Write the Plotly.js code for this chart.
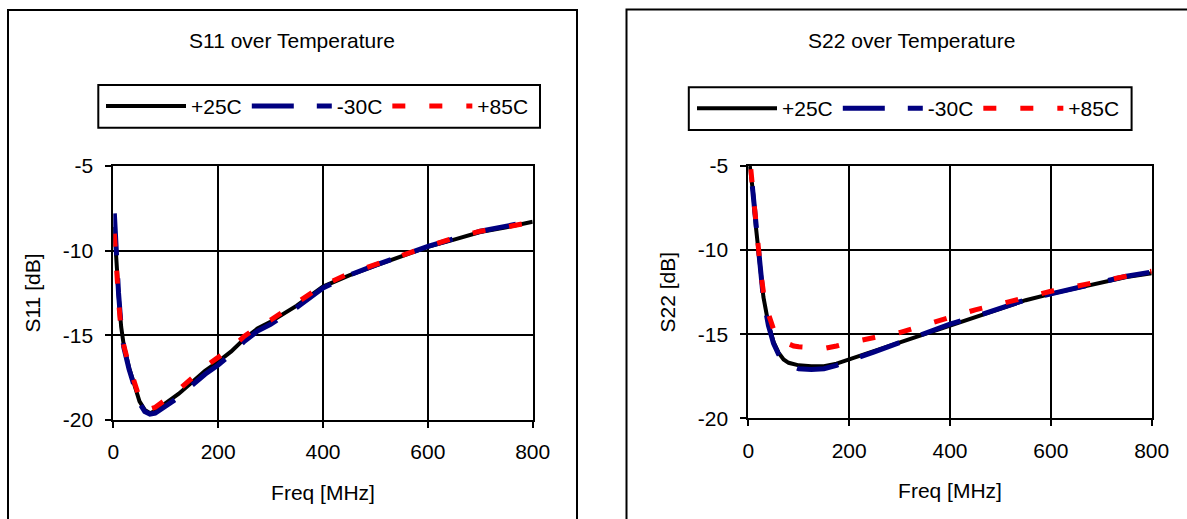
<!DOCTYPE html>
<html>
<head>
<meta charset="utf-8">
<script src="https://cdn.plot.ly/plotly-3.0.1.min.js"></script>
<style>
  html, body { margin: 0; padding: 0; background: #fff; }
  #chart { width: 1187px; height: 519px; }
</style>
</head>
<body>
<div id="chart"></div>
<script>
// ---------------- DATA ----------------
const seriesNames = ['+25C', '-30C', '+85C'];

// S11 over Temperature
const s11Freq = [2, 5, 10, 15, 20, 30, 40, 50, 60, 70, 80, 90, 100, 125, 150, 175, 200, 225, 250, 275, 300, 350, 400, 450, 500, 550, 600, 650, 700, 750, 800];
const s11_25C = [-8.6, -10.4, -12.6, -14.5, -15.6, -16.9, -18.0, -18.9, -19.4, -19.6, -19.45, -19.2, -19.0, -18.45, -17.75, -17.1, -16.55, -15.95, -15.2, -14.6, -14.2, -13.25, -12.12, -11.46, -10.88, -10.33, -9.78, -9.35, -8.9, -8.62, -8.29];
const s11_m30C = [-7.8, -10.0, -12.5, -14.5, -15.7, -17.0, -18.1, -19.0, -19.5, -19.65, -19.6, -19.4, -19.2, -18.65, -17.95, -17.3, -16.75, -16.1, -15.35, -14.75, -14.35, -13.35, -12.2, -11.45, -10.85, -10.3, -9.75, -9.3, -8.85, -8.55, -8.25];
const s11_85C = [-9.0, -10.8, -12.9, -14.8, -15.6, -16.8, -17.8, -18.7, -19.2, -19.35, -19.25, -19.05, -18.8, -18.2, -17.5, -16.85, -16.3, -15.75, -15.05, -14.5, -14.1, -13.1, -12.05, -11.35, -10.8, -10.3, -9.75, -9.25, -8.85, -8.6, -8.3];

// S22 over Temperature
const s22Freq25 = [3, 6, 10, 15, 20, 25, 30, 40, 50, 60, 70, 80, 90, 100, 125, 150, 175, 200, 250, 300, 350, 400, 450, 500, 550, 600, 650, 700, 750, 800];
const s22_25C = [-5.0, -5.6, -6.7, -8.6, -10.2, -11.5, -12.8, -14.4, -15.45, -16.1, -16.5, -16.7, -16.8, -16.85, -16.9, -16.9, -16.75, -16.5, -16.0, -15.5, -14.95, -14.45, -13.98, -13.48, -12.98, -12.6, -12.25, -11.9, -11.6, -11.38];
const s22FreqM30 = [8, 10, 15, 20, 25, 30, 40, 50, 60, 70, 80, 90, 100, 125, 150, 175, 200, 250, 300, 350, 400, 450, 500, 550, 600, 650, 700, 750, 800];
const s22_m30C = [-6.2, -6.8, -8.7, -10.3, -11.6, -12.9, -14.5, -15.55, -16.2, -16.65, -16.85, -16.95, -17.05, -17.1, -17.05, -16.85, -16.6, -16.05, -15.5, -14.95, -14.4, -13.95, -13.45, -12.95, -12.6, -12.25, -11.9, -11.55, -11.3];
const s22Freq85 = [5, 10, 15, 20, 25, 30, 40, 50, 60, 70, 80, 90, 100, 125, 150, 175, 200, 250, 300, 350, 400, 450, 500, 550, 600, 650, 700, 750, 800];
const s22_85C = [-5.2, -6.8, -8.5, -10.1, -11.4, -12.5, -13.8, -14.7, -15.2, -15.45, -15.6, -15.7, -15.75, -15.8, -15.85, -15.7, -15.5, -15.2, -14.9, -14.45, -14.0, -13.55, -13.2, -12.8, -12.45, -12.15, -11.85, -11.55, -11.25];

const xTickVals = [0, 200, 400, 600, 800];
const yTickVals = [-20, -15, -10, -5];

// ---------------- LAYOUT HELPERS ----------------
const W = 1187, H = 519;
const px = v => v / W;          // x pixel -> paper
const py = v => (H - v) / H;    // y pixel (from top) -> paper

const FONT = 'Liberation Sans, Arial, Helvetica, sans-serif';
const FS = 21;

const lineStyles = [
  { color: '#000000', width: 4, dash: 'solid' },
  { color: '#000080', width: 5, dash: '42px,23px' },
  { color: '#FF0000', width: 5, dash: '13px,24px' }
];

function mk(x, y, i, xa, ya, leg, show) {
  return {
    x: x, y: y, type: 'scatter', mode: 'lines', name: seriesNames[i],
    xaxis: xa, yaxis: ya, legend: leg, showlegend: show,
    line: Object.assign({}, lineStyles[i]), hoverinfo: 'x+y+name'
  };
}

const traces = [
  mk(s11Freq, s11_25C, 0, 'x', 'y', 'legend', true),
  mk(s11Freq, s11_m30C, 1, 'x', 'y', 'legend', true),
  mk(s11Freq, s11_85C, 2, 'x', 'y', 'legend', true),
  mk(s22Freq25, s22_25C, 0, 'x2', 'y2', 'legend2', true),
  mk(s22FreqM30, s22_m30C, 1, 'x2', 'y2', 'legend2', true),
  mk(s22Freq85, s22_85C, 2, 'x2', 'y2', 'legend2', true)
];

function xAxis(d0, d1, anchor) {
  return {
    domain: [px(d0), px(d1)], anchor: anchor, range: [0, 800],
    tickvals: xTickVals, ticktext: xTickVals.map(String),
    showgrid: true, gridcolor: '#000', gridwidth: 2,
    showline: true, linecolor: '#000', linewidth: 2, mirror: true,
    ticks: 'outside', ticklen: 6, tickwidth: 2, tickcolor: '#000',
    zeroline: false, tickfont: { family: FONT, size: FS, color: '#000' },
    ticklabelstandoff: 6,
    title: { text: 'Freq [MHz]', font: { family: FONT, size: FS, color: '#000' }, standoff: 23 },
    fixedrange: true
  };
}
function yAxis(top, bottom, anchor, label) {
  return {
    domain: [py(bottom), py(top)], anchor: anchor, range: [-20, -5],
    tickvals: yTickVals, ticktext: yTickVals.map(String),
    showgrid: true, gridcolor: '#000', gridwidth: 2,
    showline: true, linecolor: '#000', linewidth: 2, mirror: true,
    ticks: 'outside', ticklen: 6, tickwidth: 2, tickcolor: '#000',
    zeroline: false, tickfont: { family: FONT, size: FS, color: '#000' },
    ticklabelstandoff: 8,
    title: { text: label, font: { family: FONT, size: FS, color: '#000' }, standoff: 16 },
    fixedrange: true
  };
}

function legendCfg(xLeft, yMid) {
  return {
    orientation: 'h', x: px(xLeft), xanchor: 'left', y: py(yMid), yanchor: 'middle',
    bgcolor: 'rgba(0,0,0,0)', borderwidth: 0, itemwidth: 80,
    font: { family: FONT, size: FS, color: '#000' }, itemclick: false, itemdoubleclick: false
  };
}

function rect(x0, y0, x1, y1) {
  return { type: 'rect', xref: 'paper', yref: 'paper', x0: px(x0), x1: px(x1), y0: py(y1), y1: py(y0),
           line: { color: '#000', width: 2 }, fillcolor: 'rgba(0,0,0,0)', layer: 'above' };
}

const layout = {
  width: W, height: H, autosize: false,
  margin: { l: 0, r: 0, t: 0, b: 0, pad: 0 },
  paper_bgcolor: '#fff', plot_bgcolor: '#fff',
  font: { family: FONT, size: FS, color: '#000' },
  xaxis: xAxis(113.3, 532.7, 'y'),
  yaxis: yAxis(166, 420, 'x', 'S11 [dB]'),
  xaxis2: xAxis(748.3, 1151.7, 'y2'),
  yaxis2: yAxis(166, 418.3, 'x2', 'S22 [dB]'),
  legend: legendCfg(101, 106.3),
  legend2: legendCfg(692, 108.6),
  annotations: [
    { text: 'S11 over Temperature', xref: 'paper', yref: 'paper', x: px(291.7), y: py(40.5),
      xanchor: 'center', yanchor: 'middle', showarrow: false, font: { family: FONT, size: FS, color: '#000' } },
    { text: 'S22 over Temperature', xref: 'paper', yref: 'paper', x: px(911), y: py(40.5),
      xanchor: 'center', yanchor: 'middle', showarrow: false, font: { family: FONT, size: FS, color: '#000' } }
  ],
  shapes: [
    rect(8, 10, 577, 540),
    rect(626.5, 9.5, 1200, 540),
    rect(98.3, 85, 540, 127.7),
    rect(688.8, 87.3, 1131.6, 130)
  ]
};

Plotly.newPlot('chart', traces, layout, { displayModeBar: false, staticPlot: false, responsive: false });
</script>
</body>
</html>
